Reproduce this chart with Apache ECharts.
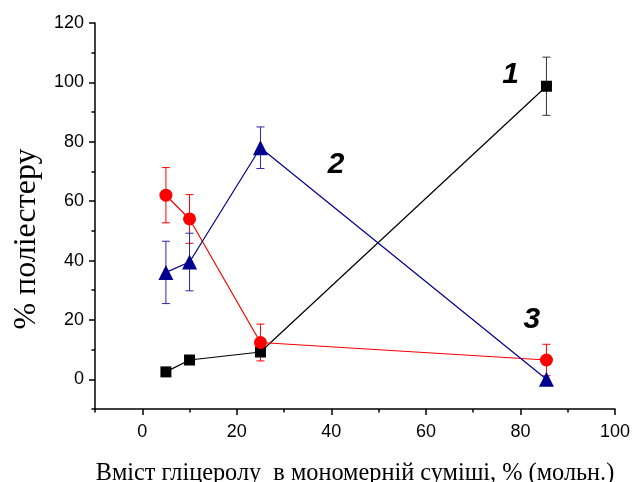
<!DOCTYPE html>
<html><head><meta charset="utf-8">
<script src="https://cdn.jsdelivr.net/npm/echarts@6/dist/echarts.min.js"></script>
<style>html,body{margin:0;padding:0;background:#fff}#c{width:634px;height:482px}</style>
</head><body><div id="c"></div>
<script>
const xs = [5, 10, 25, 85.5];
const s1 = [2.5, 6.5, 9.2, 98.7];
const s1err = [0, 0, 0, 9.8];
const s2 = [36, 39.5, 78, 0];
const s2err = [10.5, 9.7, 7, 0];
const s3 = [62, 54, 12.4, 6.5];
const s3err = [9.3, 8.2, 6.2, 5.3];
const xMajor = [0, 20, 40, 60, 80, 100];
const xMinor = [-10, 10, 30, 50, 70, 90];
const yMajor = [0, 20, 40, 60, 80, 100, 120];
const yMinor = [-10, 10, 30, 50, 70, 90, 110];
const annotations = [[77.9, 102.6, '1'], [41, 72.3, '2'], [82.4, 20, '3']];
const xTitle = 'Вміст гліцеролу  в мономерній суміші, % (мольн.)';
const yTitle = '% поліестеру';

const cBlack = '#000000', cRed = '#ff0000', cBlue = '#000090';
const pts = arr => xs.map((x, i) => [x, arr[i]]);
const errData = (arr, err) => xs.map((x, i) => [x, arr[i] - err[i], arr[i] + err[i]]).filter((d, i) => err[i] > 0);
function errSeries(arr, err, color) {
  return {
    type: 'custom', xAxisIndex: 0, yAxisIndex: 0, z: 1,
    data: errData(arr, err),
    renderItem: function (params, api) {
      const lo = api.coord([api.value(0), api.value(1)]);
      const hi = api.coord([api.value(0), api.value(2)]);
      const w = 4;
      const st = { stroke: color, lineWidth: 1 };
      return { type: 'group', children: [
        { type: 'line', shape: { x1: lo[0], y1: lo[1], x2: hi[0], y2: hi[1] }, style: st },
        { type: 'line', shape: { x1: lo[0] - w, y1: lo[1], x2: lo[0] + w, y2: lo[1] }, style: st },
        { type: 'line', shape: { x1: hi[0] - w, y1: hi[1], x2: hi[0] + w, y2: hi[1] }, style: st }
      ]};
    }
  };
}
function lineSeries(arr, color, symbol, size) {
  return {
    type: 'line', xAxisIndex: 0, yAxisIndex: 0, z: 2,
    data: pts(arr), symbol: symbol, symbolSize: size, showAllSymbol: true,
    lineStyle: { color: color, width: 1.2 },
    itemStyle: { color: color, opacity: 1 },
    emphasis: { disabled: true }
  };
}
const axisFont = { fontFamily: 'Liberation Sans', fontSize: 18, color: '#000' };
const chart = echarts.init(document.getElementById('c'), null, { renderer: 'canvas' });
chart.setOption({
  animation: false,
  grid: { left: 95, right: 19, top: 23, bottom: 73, containLabel: false, outerBoundsMode: 'none' },
  xAxis: [
    { type: 'value', min: -10, max: 100, splitLine: { show: false },
      axisLine: { show: true, onZero: false, lineStyle: { color: '#000', width: 1.5 } },
      axisTick: { show: true, length: 6, customValues: xMajor, lineStyle: { color: '#000', width: 1.5 } },
      axisLabel: Object.assign({ customValues: xMajor, margin: 14 }, axisFont),
      name: xTitle, nameLocation: 'middle', nameGap: 53,
      nameTextStyle: { fontFamily: 'Liberation Serif', fontSize: 24.3, color: '#000' } },
    { type: 'value', min: -10, max: 100, position: 'bottom', splitLine: { show: false },
      axisLine: { show: false, onZero: false },
      axisTick: { show: true, length: 3.5, customValues: xMinor, lineStyle: { color: '#000', width: 1.5 } },
      axisLabel: { show: false } }
  ],
  yAxis: [
    { type: 'value', min: -10, max: 120, splitLine: { show: false },
      axisLine: { show: true, onZero: false, lineStyle: { color: '#000', width: 1.5 } },
      axisTick: { show: true, length: 6, customValues: yMajor, lineStyle: { color: '#000', width: 1.5 } },
      axisLabel: Object.assign({ customValues: yMajor, margin: 11 }, axisFont) },
    { type: 'value', min: -10, max: 120, position: 'left', splitLine: { show: false },
      axisLine: { show: false, onZero: false },
      axisTick: { show: true, length: 3.5, customValues: yMinor, lineStyle: { color: '#000', width: 1.5 } },
      axisLabel: { show: false } }
  ],
  graphic: [
    { type: 'text', x: 27, y: 239, rotation: Math.PI / 2,
      style: { text: yTitle, font: '32px "Liberation Serif"', fill: '#000', textAlign: 'center', textVerticalAlign: 'middle' } }
  ],
  series: [
    errSeries(s1, s1err, '#333'),
    errSeries(s3, s3err, cRed),
    errSeries(s2, s2err, '#2a2aa8'),
    lineSeries(s1, cBlack, 'rect', 11),
    lineSeries(s3, cRed, 'circle', 13),
    lineSeries(s2, cBlue, 'triangle', 15),
    { type: 'scatter', xAxisIndex: 0, yAxisIndex: 0, symbolSize: 1, z: 5,
      itemStyle: { opacity: 0 },
      data: annotations.map(a => ({ value: [a[0], a[1]], label: { formatter: a[2] } })),
      label: { show: true, position: 'inside', fontFamily: 'Liberation Sans', fontSize: 30,
        fontWeight: 'bold', fontStyle: 'italic', color: '#000', opacity: 1, textBorderWidth: 0 } }
  ]
});
</script></body></html>
